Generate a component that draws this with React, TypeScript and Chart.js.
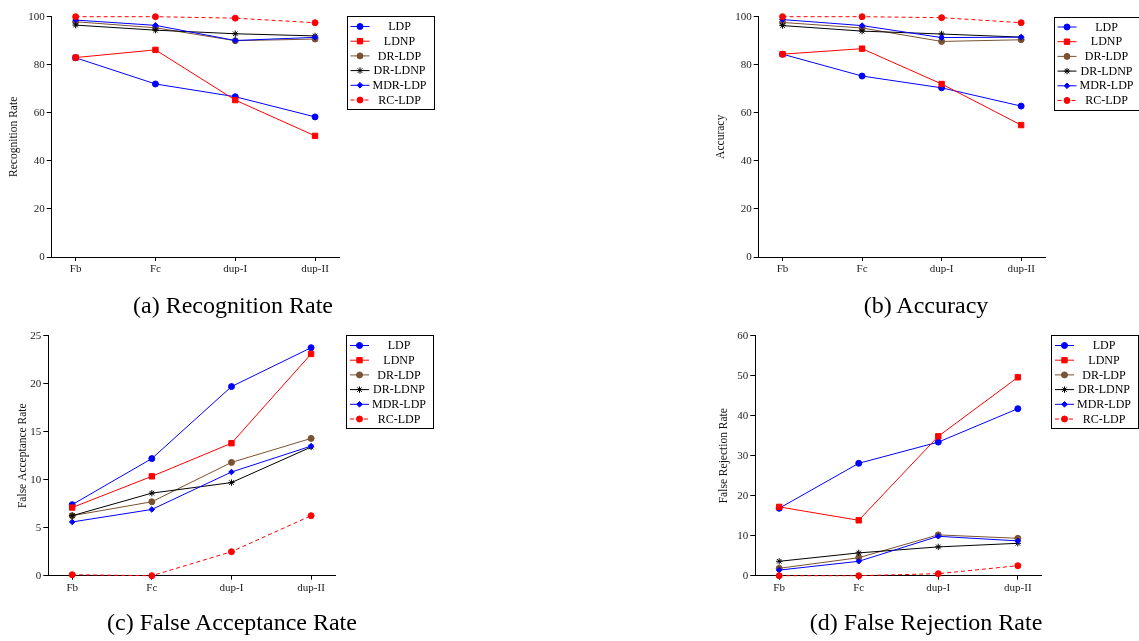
import React, { useEffect, useRef } from 'react';
import { Chart, registerables } from 'chart.js';
import { drawPoint } from 'chart.js/helpers';

Chart.register(...registerables);

// ---------- data ----------
const categories = ['Fb', 'Fc', 'dup-I', 'dup-II'];
const seriesNames = ['LDP', 'LDNP', 'DR-LDP', 'DR-LDNP', 'MDR-LDP', 'RC-LDP'];

const recogLDP = [82.9, 72.0, 66.7, 58.3];
const recogLDNP = [83.0, 86.2, 65.3, 50.4];
const recogDRLDP = [97.9, 95.4, 90.0, 90.7];
const recogDRLDNP = [96.5, 94.4, 92.9, 92.0];
const recogMDRLDP = [98.6, 96.4, 90.1, 91.4];
const recogRCLDP = [100, 100, 99.4, 97.5];

const accLDP = [84.4, 75.3, 70.4, 62.8];
const accLDNP = [84.4, 86.7, 72.0, 54.9];
const accDRLDP = [97.6, 95.3, 89.7, 90.4];
const accDRLDNP = [96.3, 94.0, 92.8, 91.5];
const accMDRLDP = [98.8, 96.3, 91.3, 91.5];
const accRCLDP = [100, 100, 99.6, 97.5];

const farLDP = [7.4, 12.2, 19.7, 23.75];
const farLDNP = [7.1, 10.35, 13.8, 23.1];
const farDRLDP = [6.25, 7.7, 11.8, 14.3];
const farDRLDNP = [6.25, 8.6, 9.7, 13.4];
const farMDRLDP = [5.6, 6.9, 10.8, 13.5];
const farRCLDP = [0.1, 0, 2.5, 6.25];

const frrLDP = [16.85, 28.1, 33.4, 41.75];
const frrLDNP = [17.2, 13.85, 34.85, 49.6];
const frrDRLDP = [1.85, 4.5, 10.2, 9.35];
const frrDRLDNP = [3.6, 5.7, 7.2, 8.1];
const frrMDRLDP = [1.4, 3.6, 9.85, 8.7];
const frrRCLDP = [0, 0, 0.5, 2.5];

// ---------- styles ----------
const seriesStyles = [
  { color: '#0000ff', point: 'circle', radius: 3, dash: [] as number[] },
  { color: '#ff0000', point: 'rect', radius: 3.8, dash: [] as number[] },
  { color: '#7b5230', point: 'circle', radius: 3, dash: [] as number[] },
  { color: '#000000', point: 'star', radius: 3.2, dash: [] as number[] },
  { color: '#0000ff', point: 'rectRot', radius: 2.8, dash: [] as number[] },
  { color: '#ff0000', point: 'circle', radius: 3, dash: [4, 3] },
];

const SERIF = '"Liberation Serif", "Times New Roman", serif';

type Panel = {
  left: number; top: number; width: number; height: number;
  pad: { left: number; right: number; top: number; bottom: number };
  yWidth: number; xHeight: number;
  yTitle: string; min: number; max: number; step: number;
  series: number[][];
  legend: { x: number; y: number };
};

const panels: Panel[] = [
  {
    left: 0, top: 0, width: 569, height: 290,
    pad: { left: 0, right: 230, top: 16.7, bottom: 3 },
    yWidth: 51.7, xHeight: 30,
    yTitle: 'Recognition Rate', min: 0, max: 100, step: 20,
    series: [recogLDP, recogLDNP, recogDRLDP, recogDRLDNP, recogMDRLDP, recogRCLDP],
    legend: { x: 346.5, y: 16 },
  },
  {
    left: 569, top: 0, width: 570, height: 290,
    pad: { left: 138, right: 94, top: 16.7, bottom: 3 },
    yWidth: 51.7, xHeight: 30,
    yTitle: 'Accuracy', min: 0, max: 100, step: 20,
    series: [accLDP, accLDNP, accDRLDP, accDRLDNP, accMDRLDP, accRCLDP],
    legend: { x: 1053.5 - 569, y: 16.5 },
  },
  {
    left: 0, top: 290, width: 569, height: 351,
    pad: { left: 9.3, right: 234, top: 45.7, bottom: 35.3 },
    yWidth: 39, xHeight: 30,
    yTitle: 'False Acceptance Rate', min: 0, max: 25, step: 5,
    series: [farLDP, farLDNP, farDRLDP, farDRLDNP, farMDRLDP, farRCLDP],
    legend: { x: 346, y: 335 - 290 },
  },
  {
    left: 569, top: 290, width: 570, height: 351,
    pad: { left: 141, right: 97.3, top: 45.7, bottom: 35.3 },
    yWidth: 45.3, xHeight: 30,
    yTitle: 'False Rejection Rate', min: 0, max: 60, step: 10,
    series: [frrLDP, frrLDNP, frrDRLDP, frrDRLDNP, frrMDRLDP, frrRCLDP],
    legend: { x: 1051 - 569, y: 335 - 290 },
  },
];

const captions = [
  { text: '(a) Recognition Rate', cx: 233, top: 293 },
  { text: '(b) Accuracy', cx: 926, top: 293 },
  { text: '(c) False Acceptance Rate', cx: 232, top: 610 },
  { text: '(d) False Rejection Rate', cx: 926, top: 610 },
];

function boxLegend(lx: number, ly: number) {
  return {
    id: 'boxLegend',
    afterDraw(chart: any) {
      const ctx = chart.ctx as CanvasRenderingContext2D;
      ctx.save();
      const w = 87, h = 93;
      ctx.fillStyle = '#fff';
      ctx.fillRect(lx, ly, w, h);
      ctx.strokeStyle = '#000';
      ctx.lineWidth = 1;
      ctx.setLineDash([]);
      ctx.strokeRect(Math.round(lx) + 0.5, Math.round(ly) + 0.5, w, h);
      chart.data.datasets.forEach((ds: any, i: number) => {
        const y = ly + 10.5 + i * 14.7;
        ctx.strokeStyle = ds.borderColor;
        ctx.lineWidth = ds.borderWidth;
        ctx.setLineDash(ds.borderDash || []);
        ctx.beginPath();
        ctx.moveTo(lx + 4, y);
        ctx.lineTo(lx + 23, y);
        ctx.stroke();
        ctx.setLineDash([]);
        ctx.fillStyle = ds.pointBackgroundColor;
        ctx.strokeStyle = ds.pointBorderColor;
        ctx.lineWidth = 1;
        drawPoint(ctx, { pointStyle: ds.pointStyle, radius: ds.pointRadius, borderWidth: 1, rotation: 0 } as any, lx + 13.5, y);
        ctx.fillStyle = '#000';
        ctx.font = `12px ${SERIF}`;
        ctx.textAlign = 'center';
        ctx.textBaseline = 'middle';
        ctx.fillText(ds.label, lx + 53, y + 0.5);
      });
      ctx.restore();
    },
  };
}

function PanelChart({ p }: { p: Panel }) {
  const ref = useRef<HTMLCanvasElement | null>(null);
  useEffect(() => {
    if (!ref.current) return;
    const datasets = p.series.map((vals, i) => {
      const s = seriesStyles[i];
      return {
        label: seriesNames[i],
        data: vals.map((v, k) => ({ x: k, y: v })),
        borderColor: s.color,
        backgroundColor: s.color,
        pointBackgroundColor: s.color,
        pointBorderColor: s.color,
        pointStyle: s.point,
        pointRadius: s.radius,
        pointBorderWidth: 1,
        borderWidth: 1,
        borderDash: s.dash,
        tension: 0,
        clip: false as any,
        order: 5 - i,
      };
    });
    const tickFont = { family: SERIF, size: 11 };
    const chart = new Chart(ref.current, {
      type: 'line',
      data: { datasets: datasets as any },
      options: {
        animation: false,
        responsive: false,
        maintainAspectRatio: false,
        layout: { padding: p.pad },
        plugins: { legend: { display: false }, tooltip: { enabled: false } },
        scales: {
          x: {
            type: 'linear',
            min: -0.3,
            max: 3.3,
            afterBuildTicks: (s: any) => {
              s.ticks = categories.map((_, i) => ({ value: i }));
            },
            afterFit: (s: any) => {
              s.height = p.xHeight;
            },
            ticks: {
              callback: (v: any) => categories[Math.round(Number(v))] ?? '',
              font: tickFont,
              color: '#222',
              padding: 2,
              maxRotation: 0,
              autoSkip: false,
            },
            grid: { display: true, drawOnChartArea: false, drawTicks: true, tickLength: 4, color: '#000' },
            border: { display: true, color: '#000', width: 1 },
          },
          y: {
            type: 'linear',
            min: p.min,
            max: p.max,
            afterFit: (s: any) => {
              s.width = p.yWidth;
            },
            ticks: { stepSize: p.step, font: tickFont, color: '#222', padding: 2 },
            grid: { display: true, drawOnChartArea: false, drawTicks: true, tickLength: 5, color: '#000' },
            border: { display: true, color: '#000', width: 1 },
            title: {
              display: true,
              text: p.yTitle,
              font: { family: SERIF, size: 11.5 },
              color: '#111',
              padding: { top: 7.1, bottom: 0 },
            },
          },
        },
      },
      plugins: [boxLegend(p.legend.x, p.legend.y)],
    } as any);
    return () => chart.destroy();
  }, [p]);
  return (
    <canvas
      ref={ref}
      width={p.width}
      height={p.height}
      style={{ position: 'absolute', left: p.left, top: p.top, width: p.width, height: p.height }}
    />
  );
}

export default function App() {
  return (
    <div style={{ position: 'absolute', left: 0, top: 0, width: 1139, height: 641, background: '#fff', overflow: 'hidden' }}>
      {panels.map((p, i) => (
        <PanelChart key={i} p={p} />
      ))}
      {captions.map((c, i) => (
        <div
          key={'c' + i}
          style={{
            position: 'absolute',
            left: c.cx - 250,
            width: 500,
            top: c.top,
            textAlign: 'center',
            fontFamily: SERIF,
            fontSize: 24,
            lineHeight: '24px',
            color: '#000',
            whiteSpace: 'nowrap',
          }}
        >
          {c.text}
        </div>
      ))}
    </div>
  );
}
